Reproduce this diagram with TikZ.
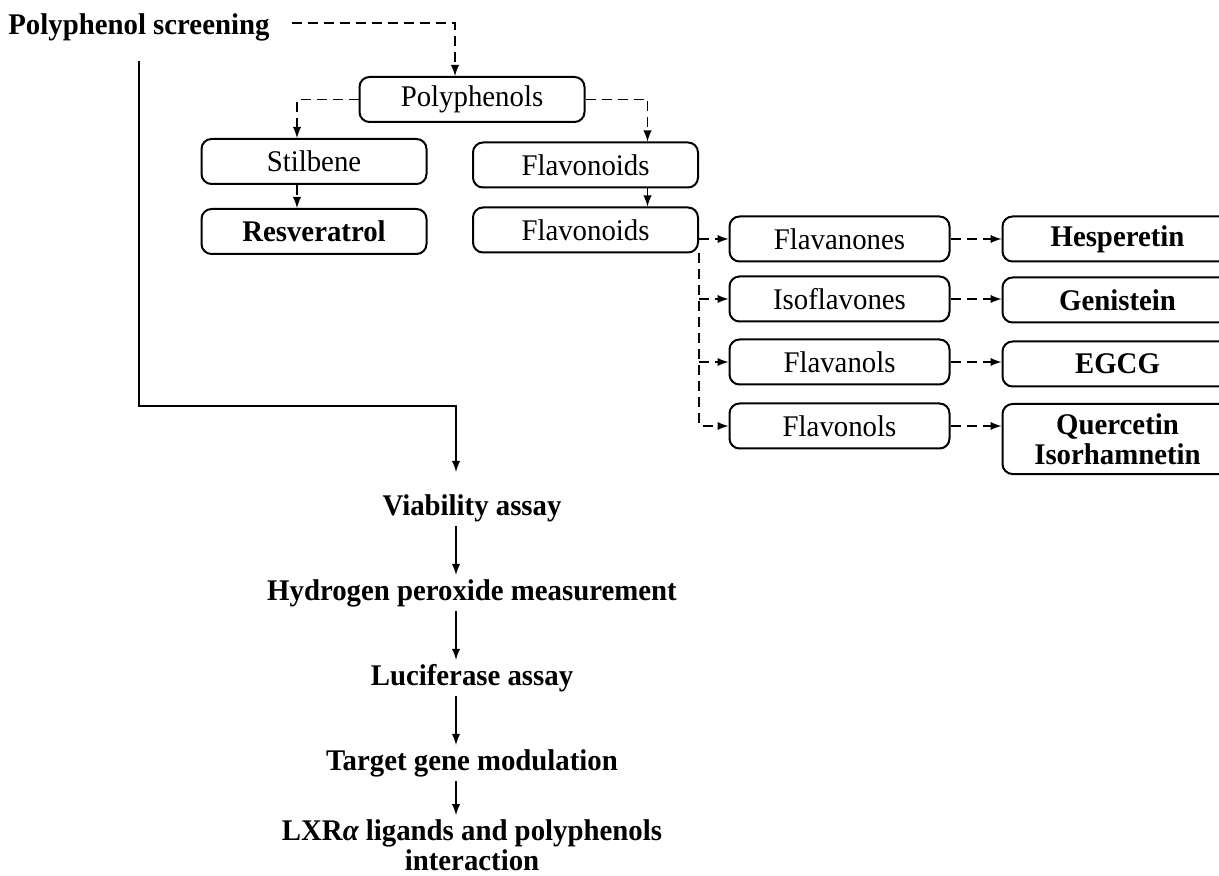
\documentclass[tikz,border=0pt]{standalone}
\usepackage{fontspec}
\setmainfont{Liberation Serif}[FakeStretch=0.96]
\usetikzlibrary{positioning}
\usetikzlibrary{calc}
\tikzset{>=latex}
\tikzset{group/.style={rectangle, rounded corners=5pt, draw, line width=1pt, minimum width=112.5pt, minimum height=22.5pt, align=center, font=\fontsize{15}{15}\selectfont}}
\tikzset{compound/.style={group, minimum width=115pt, font=\fontsize{15}{15}\selectfont\bfseries}}
\tikzset{stage/.style={inner sep=1pt, align=center, font=\fontsize{15}{15}\selectfont\bfseries}}
\tikzset{branch/.style={->, line width=0.9pt, dash pattern=on 5pt off 3pt}}
\tikzset{flow/.style={->, line width=0.9pt}}

\begin{document}
\begin{tikzpicture}
    \useasboundingbox (0,0) rectangle (609.5pt,-438pt);

    % ------- Start Classification ------- %
    \node [stage, anchor=west] (screening) at (3pt,-13.5pt) {Polyphenol screening};
    \node [group] (polyphenols) at (236pt,-49.75pt) {Polyphenols};

    \node [group] (stilbene) at ($(polyphenols) + (-79pt,-31pt)$) {Stilbene};
    \node [compound, minimum width=112.5pt] (resveratrol) at ($(stilbene) + (0,-35pt)$) {Resveratrol};

    \node [group] (flavonoids0) at ($(polyphenols) + (56.75pt,-32.75pt)$) {Flavonoids};
    \node [group] (flavonoids1) at ($(flavonoids0) + (0,-32.5pt)$) {Flavonoids};

    \node [group, minimum width=110pt] (flavanones) at ($(flavonoids1) + (127pt,-4.5pt)$) {Flavanones};
    \node [group, minimum width=110pt] (isoflavones) at ($(flavanones) + (0,-30pt)$) {Isoflavones};
    \node [group, minimum width=110pt] (flavanols) at ($(isoflavones) + (0,-31.5pt)$) {Flavanols};
    \node [group, minimum width=110pt] (flavonols) at ($(flavanols) + (0,-32pt)$) {Flavonols};

    \node [compound] (hesperetin) at ($(flavanones) + (139pt,0)$) {Hesperetin};
    \node [compound] (genistein) at ($(isoflavones) + (139pt,-0.5pt)$) {Genistein};
    \node [compound] (egcg) at ($(flavanols) + (139pt,-1pt)$) {EGCG};
    \node [compound, minimum height=35pt] (quercetin) at ($(flavonols) + (139pt,-6.5pt)$) {Quercetin\\Isorhamnetin};
    % ------- End Classification ------- %

    % The dashed links of the classification.
    \draw [branch] ($(screening.east) + (10pt,2pt)$) -| ($(polyphenols.north) + (-8.5pt,0)$);
    \draw [branch] (polyphenols.west) -| ($(stilbene.north) + (-8.5pt,0)$);
    \draw [branch] ($(stilbene.south) + (-8.5pt,0)$) -- ($(resveratrol.north) + (-8.5pt,0)$);
    \draw [branch] (polyphenols.east) -| ($(flavonoids0.north) + (31pt,0)$);
    \draw [branch] ($(flavonoids0.south) + (31pt,0)$) -- ($(flavonoids1.north) + (31pt,0)$);

    \draw [branch] (flavonoids1.east |- flavanones) -- (flavanones.west);
    \draw [branch] (flavonoids1.south east |- isoflavones) -- (isoflavones.west);
    \draw [branch] (flavonoids1.south east |- flavanols) -- (flavanols.west);
    \draw [branch] (flavonoids1.south east) |- (flavonols.west);

    \draw [branch] (flavanones.east) -- (flavanones.east -| hesperetin.west);
    \draw [branch] (isoflavones.east) -- (isoflavones.east -| genistein.west);
    \draw [branch] (flavanols.east) -- (flavanols.east -| egcg.west);
    \draw [branch] (flavonols.east) -- (flavonols.east -| quercetin.west);

    % ------- Start Assays ------- %
    \node [stage] (viability) at (236pt,-254pt) {Viability assay};
    \node [stage] (peroxide) at ($(viability) + (0,-42.5pt)$) {Hydrogen peroxide measurement};
    \node [stage] (luciferase) at ($(peroxide) + (0,-42.5pt)$) {Luciferase assay};
    \node [stage] (targetGene) at ($(luciferase) + (0,-42.5pt)$) {Target gene modulation};
    \node [stage] (ligands) at ($(targetGene) + (0,-41pt)$) {LXR{\itshape α} ligands and polyphenols\\interaction};
    % ------- End Assays ------- %

    % A line from the screening down to the assays.
    \draw [flow] ($(screening.south) + (0,-9pt)$) |- ($(viability.north) + (-8pt,43pt)$)
        -- ($(viability.north) + (-8pt,10pt)$);

    \draw [flow] ($(viability.south) + (-8pt,-1pt)$) -- ($(peroxide.north) + (-8pt,1pt)$);
    \draw [flow] ($(peroxide.south) + (-8pt,-1pt)$) -- ($(luciferase.north) + (-8pt,1pt)$);
    \draw [flow] ($(luciferase.south) + (-8pt,-1pt)$) -- ($(targetGene.north) + (-8pt,1pt)$);
    \draw [flow] ($(targetGene.south) + (-8pt,-1pt)$) -- ($(ligands.north) + (-8pt,1pt)$);
\end{tikzpicture}
\end{document}
